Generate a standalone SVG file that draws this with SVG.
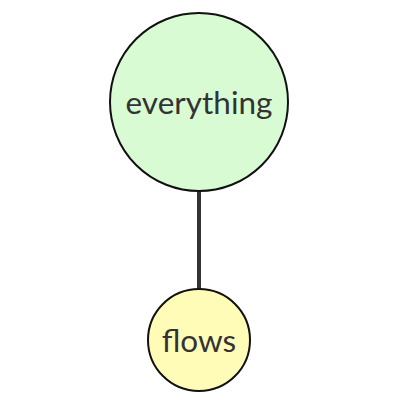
<svg xmlns="http://www.w3.org/2000/svg" width="400" height="400" viewBox="0 0 400 400">
<style>
.node circle{stroke:#111;stroke-width:2}
.node text{font-family:Lato,"Liberation Sans",sans-serif;fill:#333;text-anchor:middle;font-size:31.5px}
.edge{stroke:#333;stroke-width:4;fill:none}
</style>
<rect width="400" height="400" fill="#fff"/>
<g id="connectors">
<line class="edge" x1="199" y1="190" x2="199" y2="289"/>
</g>
<g id="everything" class="node">
<circle cx="199" cy="102" r="89" fill="#d8fbd4"/>
<text x="199" y="114">everything</text>
</g>
<g id="flows" class="node">
<circle cx="199" cy="340" r="51" fill="#fffcb8"/>
<text x="199" y="352">flows</text>
</g>
</svg>
